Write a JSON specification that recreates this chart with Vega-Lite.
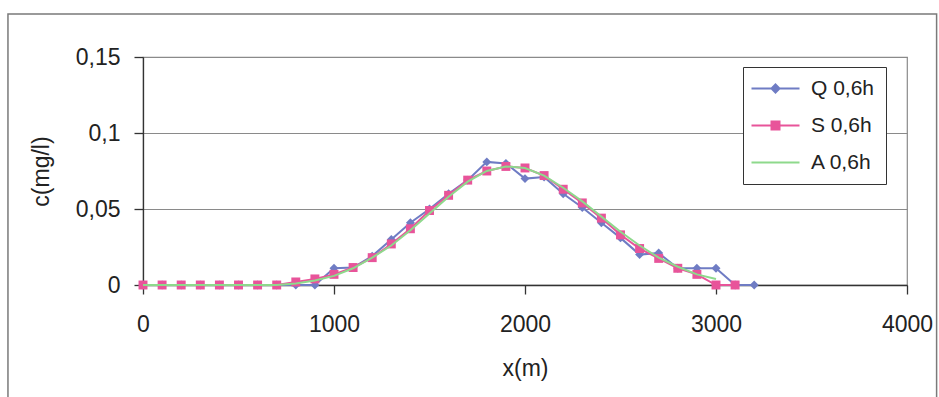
{
  "$schema": "https://vega.github.io/schema/vega-lite/v6.json",
  "autosize": {"type": "none"},
  "padding": {"left": 143, "top": 57, "right": 32, "bottom": 112},
  "width": 764,
  "height": 228,
  "background": "white",
  "config": {
    "font": "Liberation Sans",
    "view": {"stroke": "#8a8a8a", "strokeWidth": 1.2},
    "axis": {
      "labelFont": "Liberation Sans",
      "titleFont": "Liberation Sans",
      "labelFontSize": 23,
      "titleFontSize": 23,
      "titleFontWeight": "normal",
      "labelColor": "#222",
      "titleColor": "#222",
      "domainColor": "#333",
      "tickColor": "#333",
      "domainWidth": 1.3,
      "tickWidth": 1.3,
      "tickSize": 9
    }
  },
  "datasets": {
    "frame": [{"x0": -707, "x1": 4155, "y0": 0.1783, "y1": -0.1}],
    "conc": [
      {"x": 0, "series": "Q 0,6h", "c": 0},
      {"x": 100, "series": "Q 0,6h", "c": 0},
      {"x": 200, "series": "Q 0,6h", "c": 0},
      {"x": 300, "series": "Q 0,6h", "c": 0},
      {"x": 400, "series": "Q 0,6h", "c": 0},
      {"x": 500, "series": "Q 0,6h", "c": 0},
      {"x": 600, "series": "Q 0,6h", "c": 0},
      {"x": 700, "series": "Q 0,6h", "c": 0},
      {"x": 800, "series": "Q 0,6h", "c": 0},
      {"x": 900, "series": "Q 0,6h", "c": 0},
      {"x": 1000, "series": "Q 0,6h", "c": 0.011},
      {"x": 1100, "series": "Q 0,6h", "c": 0.0115},
      {"x": 1200, "series": "Q 0,6h", "c": 0.019},
      {"x": 1300, "series": "Q 0,6h", "c": 0.03},
      {"x": 1400, "series": "Q 0,6h", "c": 0.041},
      {"x": 1500, "series": "Q 0,6h", "c": 0.05},
      {"x": 1600, "series": "Q 0,6h", "c": 0.06},
      {"x": 1700, "series": "Q 0,6h", "c": 0.069},
      {"x": 1800, "series": "Q 0,6h", "c": 0.081},
      {"x": 1900, "series": "Q 0,6h", "c": 0.08},
      {"x": 2000, "series": "Q 0,6h", "c": 0.07},
      {"x": 2100, "series": "Q 0,6h", "c": 0.071},
      {"x": 2200, "series": "Q 0,6h", "c": 0.06},
      {"x": 2300, "series": "Q 0,6h", "c": 0.051},
      {"x": 2400, "series": "Q 0,6h", "c": 0.041},
      {"x": 2500, "series": "Q 0,6h", "c": 0.031},
      {"x": 2600, "series": "Q 0,6h", "c": 0.02},
      {"x": 2700, "series": "Q 0,6h", "c": 0.021},
      {"x": 2800, "series": "Q 0,6h", "c": 0.011},
      {"x": 2900, "series": "Q 0,6h", "c": 0.011},
      {"x": 3000, "series": "Q 0,6h", "c": 0.011},
      {"x": 3100, "series": "Q 0,6h", "c": 0},
      {"x": 3200, "series": "Q 0,6h", "c": 0},
      {"x": 0, "series": "S 0,6h", "c": 0},
      {"x": 100, "series": "S 0,6h", "c": 0},
      {"x": 200, "series": "S 0,6h", "c": 0},
      {"x": 300, "series": "S 0,6h", "c": 0},
      {"x": 400, "series": "S 0,6h", "c": 0},
      {"x": 500, "series": "S 0,6h", "c": 0},
      {"x": 600, "series": "S 0,6h", "c": 0},
      {"x": 700, "series": "S 0,6h", "c": 0},
      {"x": 800, "series": "S 0,6h", "c": 0.002},
      {"x": 900, "series": "S 0,6h", "c": 0.004},
      {"x": 1000, "series": "S 0,6h", "c": 0.007},
      {"x": 1100, "series": "S 0,6h", "c": 0.0115},
      {"x": 1200, "series": "S 0,6h", "c": 0.018},
      {"x": 1300, "series": "S 0,6h", "c": 0.027},
      {"x": 1400, "series": "S 0,6h", "c": 0.037},
      {"x": 1500, "series": "S 0,6h", "c": 0.049},
      {"x": 1600, "series": "S 0,6h", "c": 0.059},
      {"x": 1700, "series": "S 0,6h", "c": 0.069},
      {"x": 1800, "series": "S 0,6h", "c": 0.075},
      {"x": 1900, "series": "S 0,6h", "c": 0.078},
      {"x": 2000, "series": "S 0,6h", "c": 0.077},
      {"x": 2100, "series": "S 0,6h", "c": 0.072},
      {"x": 2200, "series": "S 0,6h", "c": 0.063},
      {"x": 2300, "series": "S 0,6h", "c": 0.054},
      {"x": 2400, "series": "S 0,6h", "c": 0.044},
      {"x": 2500, "series": "S 0,6h", "c": 0.033},
      {"x": 2600, "series": "S 0,6h", "c": 0.024},
      {"x": 2700, "series": "S 0,6h", "c": 0.0175},
      {"x": 2800, "series": "S 0,6h", "c": 0.011},
      {"x": 2900, "series": "S 0,6h", "c": 0.007},
      {"x": 3000, "series": "S 0,6h", "c": 0},
      {"x": 3100, "series": "S 0,6h", "c": 0},
      {"x": 0, "series": "A 0,6h", "c": 0},
      {"x": 100, "series": "A 0,6h", "c": 0},
      {"x": 200, "series": "A 0,6h", "c": 0},
      {"x": 300, "series": "A 0,6h", "c": 0},
      {"x": 400, "series": "A 0,6h", "c": 0},
      {"x": 500, "series": "A 0,6h", "c": 0},
      {"x": 600, "series": "A 0,6h", "c": 0},
      {"x": 700, "series": "A 0,6h", "c": 0},
      {"x": 800, "series": "A 0,6h", "c": 0.001},
      {"x": 900, "series": "A 0,6h", "c": 0.003},
      {"x": 1000, "series": "A 0,6h", "c": 0.006},
      {"x": 1100, "series": "A 0,6h", "c": 0.011},
      {"x": 1200, "series": "A 0,6h", "c": 0.018},
      {"x": 1300, "series": "A 0,6h", "c": 0.026},
      {"x": 1400, "series": "A 0,6h", "c": 0.036},
      {"x": 1500, "series": "A 0,6h", "c": 0.047},
      {"x": 1600, "series": "A 0,6h", "c": 0.058},
      {"x": 1700, "series": "A 0,6h", "c": 0.068},
      {"x": 1800, "series": "A 0,6h", "c": 0.075},
      {"x": 1900, "series": "A 0,6h", "c": 0.078},
      {"x": 2000, "series": "A 0,6h", "c": 0.077},
      {"x": 2100, "series": "A 0,6h", "c": 0.072},
      {"x": 2200, "series": "A 0,6h", "c": 0.064},
      {"x": 2300, "series": "A 0,6h", "c": 0.055},
      {"x": 2400, "series": "A 0,6h", "c": 0.045},
      {"x": 2500, "series": "A 0,6h", "c": 0.035},
      {"x": 2600, "series": "A 0,6h", "c": 0.026},
      {"x": 2700, "series": "A 0,6h", "c": 0.018},
      {"x": 2800, "series": "A 0,6h", "c": 0.012},
      {"x": 2900, "series": "A 0,6h", "c": 0.007},
      {"x": 3000, "series": "A 0,6h", "c": 0.004}
    ]
  },
  "encoding": {
    "x": {
      "field": "x",
      "type": "quantitative",
      "scale": {"domain": [0, 4000], "nice": false},
      "axis": {
        "title": "x(m)",
        "values": [0, 1000, 2000, 3000, 4000],
        "format": "d",
        "grid": false,
        "labelPadding": 19,
        "titlePadding": 21,
        "labelFlush": false
      }
    },
    "y": {
      "field": "c",
      "type": "quantitative",
      "scale": {"domain": [0, 0.15], "nice": false, "zero": true},
      "axis": {
        "title": "c(mg/l)",
        "values": [0, 0.05, 0.1, 0.15],
        "labelExpr": "replace(toString(datum.value), '.', ',')",
        "grid": true,
        "gridColor": "#8a8a8a",
        "gridWidth": 1.2,
        "labelPadding": 14,
        "titlePadding": 22
      }
    },
    "color": {
      "field": "series",
      "type": "nominal",
      "scale": {
        "domain": ["Q 0,6h", "S 0,6h", "A 0,6h"],
        "range": ["#6f7cc4", "#e8549a", "#8ed98c"]
      },
      "legend": {
        "title": null,
        "orient": "none",
        "legendX": 600,
        "legendY": 10,
        "padding": 11,
        "strokeColor": "#333",
        "fillColor": "white",
        "labelFontSize": 21,
        "labelColor": "#222",
        "labelFont": "Liberation Sans",
        "symbolSize": 100,
        "labelOffset": 36,
        "rowPadding": 15,
        "encode": {
          "symbols": {
            "update": {
              "shape": {"signal": "datum.value === 'Q 0,6h' ? 'M-2.6,0H7M2.2,-0.8L3,0L2.2,0.8L1.4,0Z' : datum.value === 'S 0,6h' ? 'M-2.6,0H7M1.4,-0.8H3V0.8H1.4Z' : 'M-2.6,0H7'"},
              "fill": {"signal": "datum.value === 'Q 0,6h' ? '#6f7cc4' : datum.value === 'S 0,6h' ? '#e8549a' : 'transparent'"},
              "strokeWidth": {"value": 2},
              "opacity": {"value": 1}
            }
          }
        }
      }
    }
  },
  "layer": [
    {
      "data": {"name": "frame"},
      "mark": {"type": "rect", "fill": null, "stroke": "#7a7a7a", "strokeWidth": 1.5, "clip": false},
      "encoding": {
        "x": {"field": "x0", "type": "quantitative"},
        "x2": {"field": "x1"},
        "y": {"field": "y0", "type": "quantitative"},
        "y2": {"field": "y1"},
        "color": null
      }
    },
    {
      "data": {"name": "conc"},
      "transform": [{"filter": "datum.series === 'Q 0,6h'"}],
      "mark": {"type": "line", "strokeWidth": 2, "point": {"shape": "diamond", "size": 80, "filled": true, "opacity": 1}}
    },
    {
      "data": {"name": "conc"},
      "transform": [{"filter": "datum.series === 'S 0,6h'"}],
      "mark": {"type": "line", "strokeWidth": 2, "point": {"shape": "square", "size": 80, "filled": true, "opacity": 1}}
    },
    {
      "data": {"name": "conc"},
      "transform": [{"filter": "datum.series === 'A 0,6h'"}],
      "mark": {"type": "line", "strokeWidth": 2}
    }
  ]
}
